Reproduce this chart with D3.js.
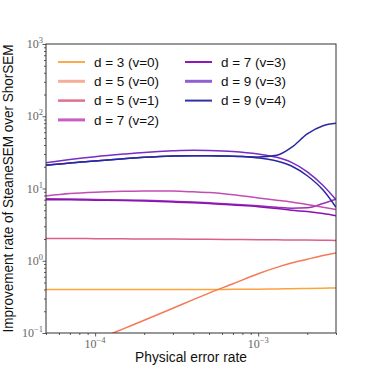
<!DOCTYPE html>
<html><head><meta charset="utf-8">
<script src="https://cdn.jsdelivr.net/npm/d3@7"></script>
<style>body{margin:0;background:#fff}svg{display:block}</style>
</head><body>
<script>
// ---- data ----
const pErr = [5e-5,7e-5,1e-4,1.5e-4,2e-4,3e-4,4e-4,5e-4,7e-4,1e-3,1.3e-3,1.6e-3,2e-3,2.5e-3,3e-3];
const d3v0 = [0.40,0.40,0.40,0.40,0.40,0.40,0.40,0.40,0.402,0.404,0.407,0.41,0.413,0.417,0.42];
const d5v0 = [0.041,0.056,0.079,0.115,0.15,0.22,0.29,0.357,0.48,0.66,0.81,0.93,1.05,1.18,1.28];
const d5v1 = [2.03,2.03,2.02,2.01,2.0,2.0,1.99,1.98,1.97,1.96,1.95,1.94,1.93,1.92,1.91];
const d7v2 = [7.9,8.5,8.9,9.15,9.25,9.2,9.0,8.8,8.2,7.4,6.9,6.5,6.0,5.5,5.1];
const d7v3 = [7.0,7.0,6.9,6.8,6.7,6.5,6.35,6.2,5.9,5.6,5.3,5.0,4.8,4.5,4.2];
const d7v3b = [7.2,7.15,7.05,6.95,6.85,6.65,6.5,6.35,6.05,5.75,5.5,5.35,5.4,6.2,7.1];
const d9v3 = [22.8,25.2,27.6,30,31.6,33.2,33.8,33.6,32.6,30,27,23,17,11,7.0];
const d9v4 = [21,22.6,24,25.8,27,28.2,28.5,28.5,28,27.3,28.8,37,57,74,80];
const d9v4b = [21,22.6,24,25.8,27,28.2,28.5,28.5,28,26.5,24,20.5,15,9.5,5.5];
const seriesNames = ["d = 3 (v=0)","d = 5 (v=0)","d = 5 (v=1)","d = 7 (v=2)","d = 7 (v=3)","d = 9 (v=3)","d = 9 (v=4)"];
const seriesValues = [d3v0,d5v0,d5v1,d7v2,d7v3,d9v3,d9v4];
const lineColors = ["#fba43c","#f47a55","#dc5f8c","#c24eb4","#8a12b2","#7a2cc4","#2a28a0"];
const legendColors = ["#fbab4a","#f5ae98","#e0708f","#c85ec0","#9018b8","#9060d2","#3232a2"];
const legendWidths = [2,3,2.5,3,2,3,2];
const extraValues = [d7v3b,d9v4b];
const extraColors = ["#9a30b8","#2a28a0"];
const xMajor = [1e-4,1e-3];
const xMajorLabels = ["−4","−3"];
const yMajor = [0.1,1,10,100,1000];
const yMajorLabels = ["−1","0","1","2","3"];

// ---- layout ----
const W=374,H=374, L=46,R=336,T=44,B=333;
const svg=d3.select("body").append("svg").attr("width",W).attr("height",H);
const x=d3.scaleLog().domain([5e-5,3e-3]).range([L,R]);
const y=d3.scaleLog().domain([0.1,1000]).range([B,T]);

svg.append("clipPath").attr("id","clip").append("rect").attr("x",L).attr("y",T).attr("width",R-L).attr("height",B-T);

const line=d3.line().x((d,i)=>x(pErr[i])).y(d=>y(d)).curve(d3.curveMonotoneX);
const g=svg.append("g").attr("clip-path","url(#clip)");
extraValues.forEach((vals,k)=>{
  g.append("path").attr("d",line(vals)).attr("fill","none").attr("stroke",extraColors[k]).attr("stroke-width",1.5);
});
seriesValues.forEach((vals,k)=>{
  g.append("path").attr("d",line(vals)).attr("fill","none").attr("stroke",lineColors[k]).attr("stroke-width",1.5);
});

// minor ticks
const xMinor=[];
[1e-5,1e-4,1e-3].forEach(dd=>{for(let m=2;m<=9;m++){const v=m*dd; if(v>=5e-5&&v<=3e-3) xMinor.push(v);}});
const yMinor=[];
[0.1,1,10,100].forEach(dd=>{for(let m=2;m<=9;m++) yMinor.push(m*dd);});

const axCol="#333";
const xa=svg.append("g").attr("transform",`translate(0,${B})`);
xa.call(d3.axisBottom(x).tickValues(xMajor).tickSize(3.5).tickFormat(""));
xa.append("g").call(d3.axisBottom(x).tickValues(xMinor).tickSize(2).tickFormat(""));
const ya=svg.append("g").attr("transform",`translate(${L},0)`);
ya.call(d3.axisLeft(y).tickValues(yMajor).tickSize(3.5).tickFormat(""));
ya.append("g").call(d3.axisLeft(y).tickValues(yMinor).tickSize(2).tickFormat(""));
svg.selectAll(".domain").remove();
svg.selectAll(".tick line").attr("stroke",axCol).attr("stroke-width",0.8);

// frame
svg.append("rect").attr("x",L).attr("y",T).attr("width",R-L).attr("height",B-T).attr("fill","none").attr("stroke",axCol).attr("stroke-width",1);

// tick labels
const tf='"Liberation Serif","DejaVu Serif",serif', tcol="#666";
xMajor.forEach((v,i)=>{
  const t=svg.append("text").attr("x",x(v)).attr("y",B+15).attr("text-anchor","middle").attr("font-family",tf).attr("font-size",12).attr("fill",tcol);
  t.append("tspan").text("10");
  t.append("tspan").attr("dy",-5).attr("font-size",8.5).text(xMajorLabels[i]);
});
yMajor.forEach((v,i)=>{
  const t=svg.append("text").attr("x",L-3).attr("y",y(v)+4).attr("text-anchor","end").attr("font-family",tf).attr("font-size",12).attr("fill",tcol);
  t.append("tspan").text("10");
  t.append("tspan").attr("dy",-5).attr("font-size",8.5).text(yMajorLabels[i]);
});

// axis titles
const sf='"Liberation Sans",Arial,sans-serif';
svg.append("text").attr("x",(L+R)/2).attr("y",362).attr("text-anchor","middle").attr("font-family",sf).attr("font-size",13.8).attr("fill","#111").text("Physical error rate");
svg.append("text").attr("transform",`translate(13,${(T+B)/2}) rotate(-90)`).attr("text-anchor","middle").attr("font-family",sf).attr("font-size",14).attr("fill","#111")
  .attr("textLength",288).attr("lengthAdjust","spacingAndGlyphs").text("Improvement rate of SteaneSEM over ShorSEM");

// legend
const colX=[58,185], rowY0=62, rowDy=19.3;
seriesNames.forEach((name,k)=>{
  const col=k<4?0:1, row=k<4?k:k-4;
  const yy=rowY0+row*rowDy, xx=colX[col];
  svg.append("line").attr("x1",xx).attr("x2",xx+27).attr("y1",yy).attr("y2",yy).attr("stroke",legendColors[k]).attr("stroke-width",legendWidths[k]);
  svg.append("text").attr("x",xx+36).attr("y",yy+4.8).attr("font-family",sf).attr("font-size",13.5).attr("fill","#111")
    .attr("textLength",65).attr("lengthAdjust","spacing").text(name);
});
</script>
</body></html>
